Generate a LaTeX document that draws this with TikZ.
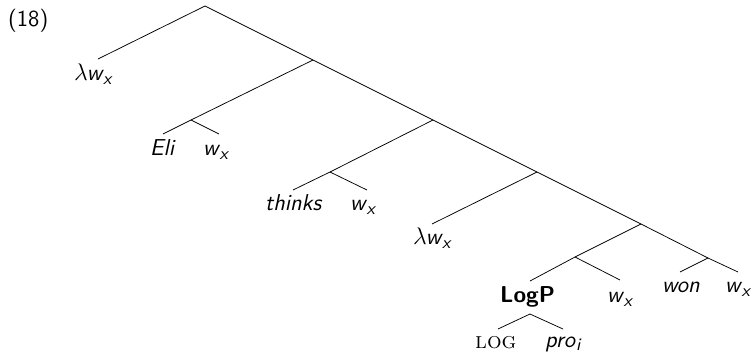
\documentclass[tikz,border=0pt]{standalone}
\usepackage{fontspec}
\usepackage{graphicx}
\begin{document}
\newcommand{\T}[1]{\scalebox{2}{\fontsize{11.5}{14}\selectfont\sffamily #1}}
\newcommand{\sbx}[1]{\raisebox{-0.2em}{\fontsize{8.7}{9}\selectfont\textit{#1}}}
\newcommand{\wx}{\textit{w}\kern-0.03em\sbx{x}}
\newcommand{\lwx}{$\lambda$\kern-0.05em\wx}
\begin{tikzpicture}[x=1pt,y=-1pt,
  lbl/.style={anchor=base west,inner sep=0pt},
  br/.style={draw=black,line width=0.75pt}]
\useasboundingbox (0,0) rectangle (752,354);
% branch points
\coordinate (R) at (205,6);
\coordinate (A) at (313,60);
\coordinate (E) at (191,120);
\coordinate (B) at (433,120);
\coordinate (T) at (330,172);
\coordinate (C) at (537,172);
\coordinate (D) at (641,224);
\coordinate (F) at (575,257);
\coordinate (G) at (708,258);
\coordinate (LP) at (530,314);
% leaf ends
\coordinate (l1) at (98,59);
\coordinate (eli) at (163,134);
\coordinate (ew) at (219,134);
\coordinate (th) at (293,190);
\coordinate (tw) at (367,190);
\coordinate (l2) at (432,224);
\coordinate (lg) at (530,281);
\coordinate (fw) at (620,280);
\coordinate (wo) at (680,272);
\coordinate (gw) at (738,272);
\coordinate (lo) at (498,329);
\coordinate (pr) at (563,329);
% lines
\draw[br] (l1) -- (R) -- (A) -- (B) -- (C) -- (D) -- (G) -- (gw);
\draw[br] (A) -- (E) -- (eli);
\draw[br] (E) -- (ew);
\draw[br] (B) -- (T) -- (th);
\draw[br] (T) -- (tw);
\draw[br] (C) -- (l2);
\draw[br] (D) -- (F) -- (lg);
\draw[br] (F) -- (fw);
\draw[br] (G) -- (wo);
\draw[br] (lo) -- (LP) -- (pr);
% labels
\node[lbl] (ex) at (8,26) {\T{(18)}};
\node[lbl] (t1) at (74,80) {\T{\lwx}};
\node[lbl] (t2) at (150,155) {\T{\textit{Eli}}};
\node[lbl] (t3) at (203,155) {\T{\wx}};
\node[lbl] (t4) at (265,210) {\T{\textit{thinks}}};
\node[lbl] (t5) at (350,210) {\T{\wx}};
\node[lbl] (t6) at (413,244) {\T{\lwx}};
\node[lbl] (t7) at (500,302) {\T{\textbf{LogP}}};
\node[lbl] (t8) at (607,302) {\T{\wx}};
\node[lbl] (t9) at (662,292) {\T{\textit{won}}};
\node[lbl] (t10) at (725,292) {\T{\wx}};
\node[lbl] (t11) at (475,348) {\T{\rmfamily\textsc{log}}};
\node[lbl] (t12) at (545,347) {\T{\textit{pro}\raisebox{-0.15em}{\fontsize{8.7}{9}\selectfont\textit{i}}}};
\end{tikzpicture}
\end{document}
